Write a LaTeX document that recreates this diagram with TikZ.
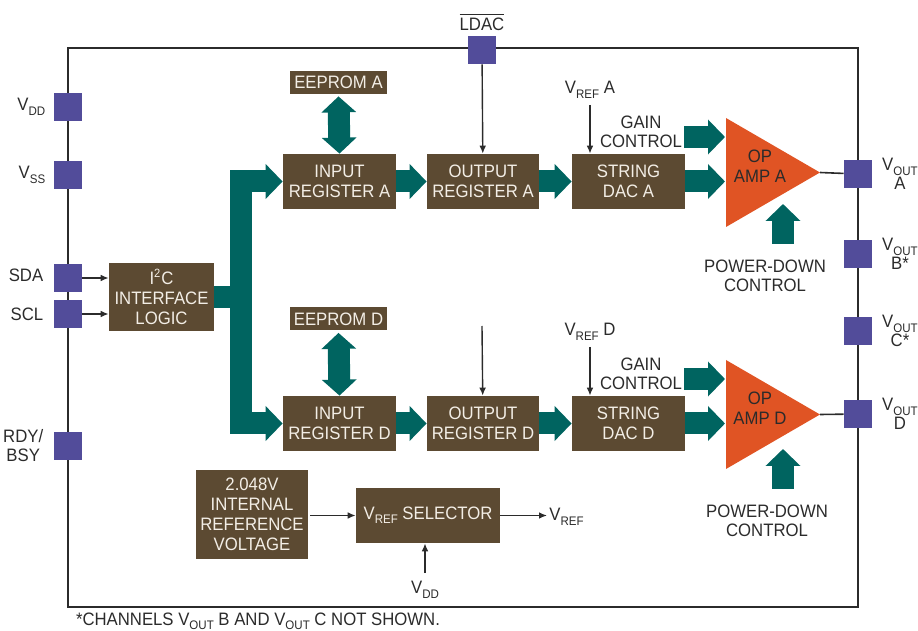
\documentclass[tikz,border=0pt]{standalone}
\usepackage{fontspec}
\setmainfont{Liberation Sans}[FakeStretch=0.93]
\usepackage{tikz}
\usetikzlibrary{arrows.meta,positioning,calc}
\definecolor{ink}{HTML}{2B2B2B}
\definecolor{blkfill}{HTML}{5C4A32}
\definecolor{blktext}{HTML}{F3EEE6}
\definecolor{busc}{HTML}{006460}
\definecolor{pinc}{HTML}{524C9A}
\definecolor{ampc}{HTML}{E05424}
\newcommand{\lowtxt}[1]{\raisebox{-2.2pt}{\fontsize{6.2}{6}\selectfont #1}}
\tikzset{
  block/.style={fill=blkfill,text=blktext,align=center,inner sep=0pt,font=\fontsize{9}{10}\selectfont},
  pin/.style={fill=pinc,minimum size=14pt,inner sep=0pt},
  lbl/.style={text=ink,align=center,inner sep=1pt,font=\fontsize{9}{9.5}\selectfont},
  amptext/.style={text=ink,align=center,inner sep=0pt,font=\fontsize{9}{10}\selectfont},
  wire/.style={draw=ink,line width=0.7pt,-{Latex[length=4pt,width=3.4pt]}},
  fat/.style={draw=busc,line width=11pt,-{Triangle[length=8.5pt,width=17pt]}},
  fatboth/.style={draw=busc,line width=11pt,{Triangle[length=8pt,width=17pt]}-{Triangle[length=8pt,width=17pt]}},
  fatbar/.style={draw=busc,line width=11pt},
  amp/.style={fill=ampc},
  frame/.style={draw=ink,line width=1pt}
}

\begin{document}
\begin{tikzpicture}[x=0.5pt,y=-0.5pt]
  \useasboundingbox (0,0) rectangle (918,631);
  \draw[frame] (68,48) rectangle (858,607);

  % pins
  \node[pin] (pvdd) at (68,107) {};
  \node[pin] (pvss) at (68,175) {};
  \node[pin] (psda) at (68,278) {};
  \node[pin] (pscl) at (68,314) {};
  \node[pin] (prdy) at (68,446) {};
  \node[pin] (pldac) at (482,50) {};
  \node[pin] (pvouta) at (858,174) {};
  \node[pin] (pvoutb) at (858,254) {};
  \node[pin] (pvoutc) at (858,331) {};
  \node[pin] (pvoutd) at (858,414) {};
  \node[lbl,left=3pt of pvdd] (lvdd) {V\lowtxt{DD}};
  \node[lbl,left=3pt of pvss] (lvss) {V\lowtxt{SS}};
  \node[lbl,left=4pt of psda,yshift=1.5pt] (lsda) {SDA};
  \node[lbl,left=4pt of pscl] (lscl) {SCL};
  \node[lbl,left=4pt of prdy] (lrdy) {RDY/\\BSY};
  \node[lbl] (lldac) at (482,22) {$\overline{\mbox{LDAC}}$};
  \node[lbl] (lvouta) at (900,174) {V\lowtxt{OUT}\\A};
  \node[lbl] (lvoutb) at (900,254) {V\lowtxt{OUT}\\B*};
  \node[lbl] (lvoutc) at (900,331) {V\lowtxt{OUT}\\C*};
  \node[lbl] (lvoutd) at (900,414) {V\lowtxt{OUT}\\D};

  % blocks
  \node[block,minimum width=52.5pt,minimum height=34pt] (i2c) at (161.5,297) {I\textsuperscript{2}C\\INTERFACE\\LOGIC};
  \node[block,minimum width=48.5pt,minimum height=11.5pt] (eepA) at (338.5,82.5) {EEPROM A};
  \node[block,minimum width=56.5pt,minimum height=27.5pt] (inA) at (339.5,181.5) {INPUT\\REGISTER A};
  \node[block,minimum width=56pt,minimum height=27.5pt] (outA) at (483,181.5) {OUTPUT\\REGISTER A};
  \node[block,minimum width=56.5pt,minimum height=27.5pt] (dacA) at (628.5,181.5) {STRING\\DAC A};
  \node[block,minimum width=48.5pt,minimum height=11.5pt] (eepD) at (338.5,319) {EEPROM D};
  \node[block,minimum width=56.5pt,minimum height=27.5pt] (inD) at (339.5,423.5) {INPUT\\REGISTER D};
  \node[block,minimum width=56pt,minimum height=27.5pt] (outD) at (483,423.5) {OUTPUT\\REGISTER D};
  \node[block,minimum width=56.5pt,minimum height=27.5pt] (dacD) at (628.5,423.5) {STRING\\DAC D};
  \node[block,minimum width=56pt,minimum height=44.5pt] (iref) at (252,514.5) {2.048V\\INTERNAL\\REFERENCE\\VOLTAGE};
  \node[block,minimum width=72pt,minimum height=27.5pt] (sel) at (428,515.5) {V\lowtxt{REF} SELECTOR};

  % op amps
  \fill[amp] (726,118) -- (820,172.5) -- (726,227) -- cycle;
  \fill[amp] (726,360) -- (820,414.5) -- (726,469) -- cycle;
  \node[amptext] (ampA) at (760,166) {OP\\AMP A};
  \node[amptext] (ampD) at (760,408) {OP\\AMP D};
  \coordinate (ampAtip) at (820,172.5);
  \coordinate (ampDtip) at (820,414.5);
  \coordinate (ampAg) at (725,137);
  \coordinate (ampAin) at (725,181.5);
  \coordinate (ampDg) at (725,379);
  \coordinate (ampDin) at (725,423.5);

  % other labels
  \node[lbl] (gainA) at (641,132) {GAIN\\CONTROL};
  \node[lbl] (gainD) at (641,374) {GAIN\\CONTROL};
  \node[lbl] (lvrefa) at (590,90) {V\lowtxt{REF} A};
  \node[lbl] (lvrefd) at (590,332) {V\lowtxt{REF} D};
  \node[lbl] (pdA) at (765,276) {POWER-DOWN\\CONTROL};
  \node[lbl] (pdD) at (767,521) {POWER-DOWN\\CONTROL};
  \node[lbl,anchor=west] (lvref) at (547,517) {V\lowtxt{REF}};
  \node[lbl] (lvddsel) at (425,590) {V\lowtxt{DD}};
  \node[lbl] (note) at (258,621) {*CHANNELS V\lowtxt{OUT} B AND V\lowtxt{OUT} C NOT SHOWN.};
  \coordinate (pdAtip) at (783,204);
  \coordinate (pdAbase) at (783,244);
  \coordinate (pdDtip) at (783,449);
  \coordinate (pdDbase) at (783,489);
  \coordinate (ldacD) at (482,326);
  \coordinate (busj) at (241,297);

  % bus and wide arrows
  \draw[fatbar] (i2c.east) -- (busj);
  \draw[fat] (busj) |- (inA.west);
  \draw[fat] (busj) |- (inD.west);
  \draw[fatboth] ([yshift=-1pt]eepA.south) -- (inA.north);
  \draw[fatboth] ([yshift=-1pt]eepD.south) -- (inD.north);
  \draw[fat] (inA) -- (outA);
  \draw[fat] (outA) -- (dacA);
  \draw[fat] (dacA.east) -- (ampAin);
  \draw[fat] (gainA.east |- ampAg) -- (ampAg);
  \draw[fat] (pdAbase) -- (pdAtip);
  \draw[fat] (inD) -- (outD);
  \draw[fat] (outD) -- (dacD);
  \draw[fat] (dacD.east) -- (ampDin);
  \draw[fat] (gainD.east |- ampDg) -- (ampDg);
  \draw[fat] (pdDbase) -- (pdDtip);

  % thin wires
  \draw[wire] (psda) -- (i2c.west |- psda);
  \draw[wire] (pscl) -- (i2c.west |- pscl);
  \draw[wire] (pldac) -- (outA);
  \draw[wire] (ldacD) -- (outD);
  \draw[wire] ([yshift=-2pt]lvrefa.south) -- (lvrefa.south |- dacA.north);
  \draw[wire] ([yshift=-2pt]lvrefd.south) -- (lvrefd.south |- dacD.north);
  \draw[wire] ([xshift=1pt]iref.east |- sel) -- (sel.west);
  \draw[wire] (sel.east) -- (sel.east -| lvref.west);
  \draw[wire] ([yshift=3pt]lvddsel.north) -- (lvddsel.north |- sel.south);
  \draw[draw=ink,line width=0.8pt] (ampAtip) -- (pvouta);
  \draw[draw=ink,line width=0.8pt] (ampDtip) -- (pvoutd);
\end{tikzpicture}
\end{document}
